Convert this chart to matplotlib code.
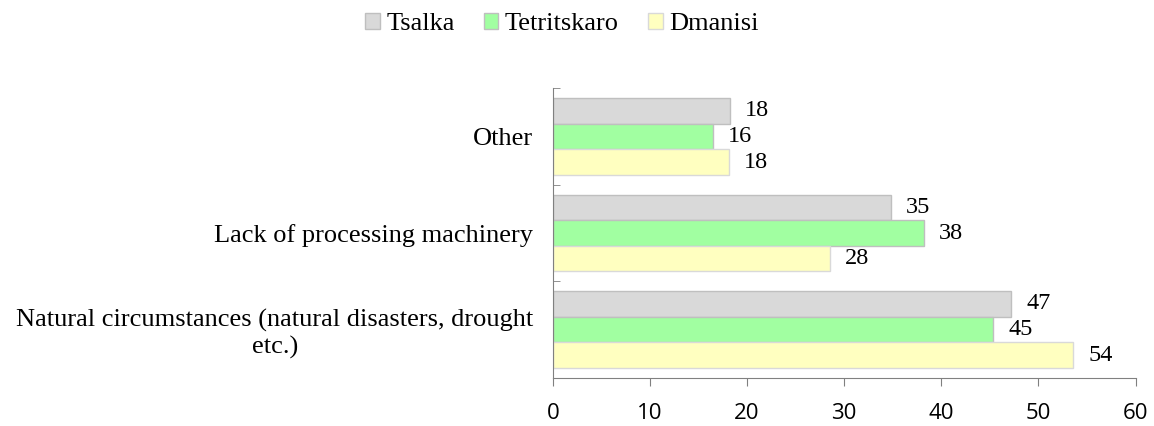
import matplotlib.pyplot as plt
import numpy as np

# datos
categorias = ["Natural circumstances (natural disasters, drought\netc.)",
              "Lack of processing machinery",
              "Other"]
series = ["Tsalka", "Tetritskaro", "Dmanisi"]
tsalka = [47.2, 34.8, 18.2]
tetritskaro = [45.3, 38.2, 16.5]
dmanisi = [53.6, 28.5, 18.1]
etiquetas_x = [0, 10, 20, 30, 40, 50, 60]

colores = ["#D9D9D9", "#A1FFA1", "#FFFFC0"]
bordes = ["#BFBFBF", "#BFBFBF", "#D9D9D9"]

fig = plt.figure(figsize=(11.54, 4.26), dpi=100)
ax = fig.add_axes([0.479, 0.113, 0.505, 0.68])

y = np.arange(len(categorias))
alto = 0.265
valores = [tsalka, tetritskaro, dmanisi]
for i, (nombre, vals) in enumerate(zip(series, valores)):
    pos = y + (1 - i) * alto
    ax.barh(pos, vals, height=alto, color=colores[i], edgecolor=bordes[i],
            linewidth=1, label=nombre)
    for p, v in zip(pos, vals):
        ax.annotate(f"{v:.0f}", (v, p), xytext=(11, 0), textcoords="offset points",
                    va="center", ha="left", fontsize=17.5, family="Liberation Serif")

ax.set_xlim(0, 60)
ax.set_ylim(-0.5, 2.5)
ax.set_xticks(etiquetas_x)
ax.set_xticklabels([str(t) for t in etiquetas_x], fontsize=16, family="Open Sans")
ax.set_yticks(y)
ax.set_yticklabels(categorias, fontsize=19, family="Liberation Serif",
                   multialignment="center")
ax.tick_params(axis="y", length=0, pad=14)
ax.tick_params(axis="x", length=6, color="#808080", direction="out", pad=12)
ax.set_yticks([-0.5, 0.5, 1.5, 2.5], minor=True)
ax.tick_params(axis="y", which="minor", length=5, direction="in", color="#808080")

for s in ["top", "right"]:
    ax.spines[s].set_visible(False)
ax.spines["left"].set_color("#808080")
ax.spines["bottom"].set_color("#808080")

fig.legend(loc="upper center", bbox_to_anchor=(0.487, 1.025), ncol=3, frameon=False,
           prop={"family": "Liberation Serif", "size": 19}, handlelength=0.55,
           handleheight=0.55, handletextpad=0.25, columnspacing=1.1)

plt.savefig("out.png", dpi=100)
